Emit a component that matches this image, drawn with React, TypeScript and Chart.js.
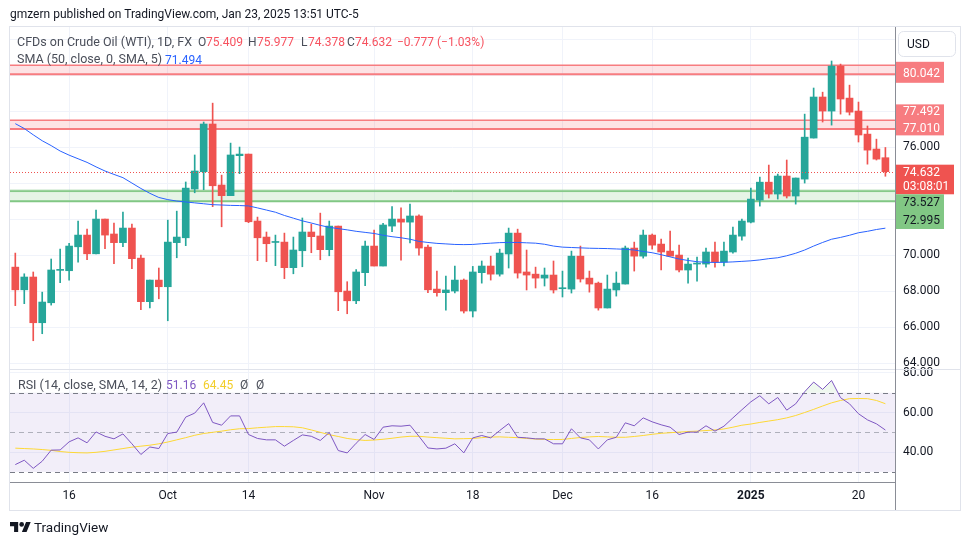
import React, { useEffect, useRef } from "react";
import { Chart, registerables } from "chart.js";
Chart.register(...registerables);

// ---- Data ----
const opens = [69.33,68.07,68.78,66.24,67.35,69.15,69.13,70.46,71.11,70.07,72.0,71.17,70.69,71.5,69.83,67.41,68.61,68.24,70.69,70.96,73.67,74.63,77.28,73.89,73.3,75.52,75.61,71.89,71.0,70.7,70.72,69.3,70.24,71.28,71.06,70.3,71.61,68.0,67.46,69.02,70.5,69.39,71.61,72.0,71.83,72.17,70.44,68.11,67.91,68.0,68.61,66.89,69.02,69.39,68.94,70.06,71.22,69.06,68.94,68.72,68.89,68.13,68.11,69.94,68.72,68.44,67.06,68.06,68.39,70.39,69.94,71.11,70.61,70.22,70.0,69.17,69.5,69.5,70.17,69.61,70.17,71.05,71.83,73.05,74.05,73.39,74.39,73.28,74.22,76.5,78.78,78.0,80.5,78.72,78.0,76.72,75.89,75.409];
const highs = [70.11,68.96,69.06,67.94,69.78,70.33,70.65,71.89,71.44,72.5,72.0,71.78,72.39,71.72,70.0,68.61,69.28,71.94,72.44,74.06,75.56,77.39,78.44,74.44,76.22,76.0,75.61,72.11,71.28,71.11,71.22,71.0,72.06,71.72,72.33,71.89,71.61,68.52,69.19,70.78,71.39,71.76,72.69,72.63,72.83,72.24,70.56,69.11,68.83,69.39,68.67,69.37,69.67,69.94,70.33,71.5,71.44,70.28,69.33,69.28,69.67,69.11,70.22,70.5,69.11,68.5,68.89,69.06,70.5,70.72,71.39,71.17,70.89,71.33,70.55,69.83,69.89,70.39,70.72,70.72,71.55,72.0,73.72,74.33,75.0,74.5,75.28,74.28,77.83,79.28,79.05,80.78,80.61,79.44,78.5,77.17,76.44,75.977];
const lows = [67.19,67.3,65.24,65.63,67.22,68.46,68.61,69.61,69.74,70.07,70.35,69.52,70.46,69.24,66.96,67.07,67.57,66.35,69.85,70.52,73.46,73.63,72.69,71.57,73.3,74.52,71.8,69.69,69.63,69.41,68.69,68.96,69.35,70.13,69.74,69.96,66.91,66.74,67.3,68.3,69.39,69.39,71.3,69.72,70.67,70.0,67.91,67.72,66.94,67.89,66.78,66.56,68.44,68.61,68.83,69.28,68.72,68.06,68.17,68.28,67.89,67.67,67.89,68.5,67.94,66.94,67.06,67.72,68.39,69.11,69.83,70.33,69.17,69.94,69.06,68.44,68.55,69.33,69.33,69.39,70.11,70.83,71.78,72.72,73.17,73.11,73.17,72.83,74.0,76.5,77.39,77.22,77.83,77.78,76.28,75.05,75.28,74.378];
const closes = [68.07,68.78,66.24,67.39,69.17,69.17,70.5,71.11,70.07,72.0,71.11,70.69,71.5,69.8,67.41,68.61,68.24,70.72,71.0,73.72,74.67,77.28,73.85,73.3,75.56,75.61,71.85,70.96,70.63,70.74,69.3,70.28,71.28,71.02,70.3,71.61,67.96,67.46,69.06,70.5,69.39,71.67,72.0,71.83,72.17,70.39,68.07,67.91,68.06,68.61,66.89,69.06,69.39,68.94,70.11,71.22,69.0,68.89,68.72,68.89,68.06,68.17,69.94,68.67,68.39,67.06,68.11,68.44,70.39,69.94,71.11,70.55,70.17,69.94,69.17,69.5,69.55,70.17,69.61,70.22,71.11,71.89,73.11,74.05,73.39,74.39,73.28,74.28,76.55,78.78,78.0,80.5,78.67,77.94,76.67,75.83,75.33,74.632];
const sma50 = [77.3,77.03,76.68,76.35,76.08,75.78,75.55,75.35,75.15,74.9,74.67,74.48,74.3,74.0,73.7,73.43,73.2,73.08,73.0,72.95,72.9,72.85,72.8,72.78,72.76,72.75,72.73,72.62,72.5,72.38,72.2,72.05,71.9,71.78,71.65,71.54,71.47,71.4,71.32,71.26,71.2,71.1,71.02,70.96,70.88,70.76,70.7,70.65,70.62,70.59,70.58,70.59,70.63,70.66,70.69,70.7,70.7,70.68,70.66,70.6,70.5,70.44,70.42,70.4,70.38,70.37,70.36,70.34,70.32,70.28,70.2,70.13,70.02,69.9,69.78,69.7,69.63,69.6,69.59,69.6,69.62,69.65,69.68,69.73,69.8,69.85,69.96,70.1,70.28,70.5,70.7,70.88,70.98,71.1,71.24,71.32,71.42,71.494];
const rsi = [33.7,35.9,31.8,35.4,41.0,41.1,45.2,47.2,44.7,50.2,48.0,46.7,49.2,44.2,38.8,42.6,41.8,49.4,50.1,57.7,59.7,64.9,55.0,53.6,58.3,58.3,48.9,46.9,46.2,46.2,43.0,45.9,48.7,48.0,45.9,49.9,40.8,39.6,44.5,48.9,46.4,52.6,53.3,53.1,53.6,48.0,42.1,41.6,42.0,44.2,39.6,47.2,48.4,47.2,50.9,54.4,47.5,47.2,46.7,46.7,44.2,44.2,51.8,47.2,46.2,41.6,46.2,47.5,54.8,53.3,57.3,55.3,53.8,52.6,48.9,50.1,50.1,53.3,50.6,53.1,57.3,61.4,65.4,68.5,64.4,67.6,61.2,64.4,70.5,75.4,71.7,76.2,67.5,64.4,59.4,56.3,54.3,51.16];
const rsiSma = [42.0,41.8,41.6,41.3,40.9,40.3,39.9,39.7,39.6,39.9,40.4,41.1,41.8,42.5,43.0,43.5,44.2,45.1,46.2,47.3,48.5,49.4,50.0,50.6,51.3,51.8,51.9,52.3,52.6,52.9,52.9,52.8,52.3,51.2,50.0,48.8,47.9,46.9,46.3,45.9,46.1,46.5,47.0,47.6,48.0,48.0,47.6,47.3,47.0,46.7,46.8,46.9,47.3,47.6,47.7,47.5,47.3,46.9,46.6,46.4,46.36,46.4,46.9,47.4,47.7,47.9,47.7,47.5,47.5,47.9,48.4,49.0,49.5,49.8,50.1,50.4,50.6,50.9,51.2,51.7,52.6,53.6,54.2,55.0,55.7,56.4,57.3,58.5,60.0,61.6,63.3,64.9,66.1,67.0,67.1,67.0,66.1,64.45];
const tickIndex = [6, 17, 26, 40, 51, 61, 71, 82, 94];
const tickLabels = ["16", "Oct", "14", "Nov", "18", "Dec", "16", "2025", "20"];
const priceTicks = [64, 66, 68, 70, 72, 74, 76, 78, 80, 82];
const shownPriceTicks = [64, 66, 68, 70, 76];
const rsiTicks = [40, 60, 80];
const rsiLevels = [70, 50, 30];
const redBands = [[80.042, 80.55], [77.01, 77.492]];
const greenBand = [72.995, 73.527, 73.6];
const lastPrice = 74.632;

const UP = "#26A69A";
const DOWN = "#EF5350";
const FONT = "Roboto";

export default function App() {
  const ref = useRef<HTMLCanvasElement>(null);
  useEffect(() => {
    const canvas = ref.current!;
    const idx = closes.map((_, i) => i);
    const colors = idx.map((i) => (closes[i] >= opens[i] ? UP : DOWN));

    const hline = (ctx: CanvasRenderingContext2D, x1: number, x2: number, y: number) => {
      ctx.beginPath();
      ctx.moveTo(x1, y);
      ctx.lineTo(x2, y);
      ctx.stroke();
    };

    const overlay = {
      id: "overlay",
      beforeDatasetsDraw(chart: any) {
        const { ctx, chartArea: a, scales } = chart;
        const y = scales.y, yr = scales.yr;
        ctx.save();
        const t70 = yr.getPixelForValue(70), b30 = yr.getPixelForValue(30);
        ctx.fillStyle = "rgba(126,87,194,0.1)";
        ctx.fillRect(a.left, t70, a.right - a.left, b30 - t70);
        ctx.lineWidth = 1;
        ctx.setLineDash([5, 4]);
        rsiLevels.forEach((v) => {
          ctx.strokeStyle = v === 50 ? "rgba(120,123,134,0.55)" : "#787B86";
          hline(ctx, a.left, a.right, Math.round(yr.getPixelForValue(v)) + 0.5);
        });
        ctx.setLineDash([]);
        redBands.forEach(([lo, hi]) => {
          const top = y.getPixelForValue(hi), bot = y.getPixelForValue(lo);
          ctx.fillStyle = "rgba(242,54,69,0.14)";
          ctx.fillRect(a.left, top, a.right - a.left, bot - top);
          ctx.strokeStyle = "#F77C80";
          ctx.lineWidth = 1.5;
          hline(ctx, a.left, a.right, top);
          ctx.lineWidth = 2;
          hline(ctx, a.left, a.right, bot);
        });
        {
          const [lo, mid, hi] = greenBand;
          const top = y.getPixelForValue(hi), m = y.getPixelForValue(mid), bot = y.getPixelForValue(lo);
          ctx.fillStyle = "rgba(76,175,80,0.14)";
          ctx.fillRect(a.left, top, a.right - a.left, bot - top);
          ctx.strokeStyle = "#81C784";
          ctx.lineWidth = 1;
          hline(ctx, a.left, a.right, top);
          hline(ctx, a.left, a.right, m);
          ctx.lineWidth = 2;
          hline(ctx, a.left, a.right, bot);
        }
        ctx.restore();
      },
      afterDatasetsDraw(chart: any) {
        const { ctx, chartArea: a, scales } = chart;
        ctx.save();
        ctx.strokeStyle = "#EF5350";
        ctx.lineWidth = 1;
        ctx.setLineDash([1, 2]);
        hline(ctx, a.left, a.right, Math.round(scales.y.getPixelForValue(lastPrice)) + 0.5);
        ctx.restore();
      },
      afterDraw(chart: any) {
        const { ctx, chartArea: a, scales } = chart;
        const y = scales.y;
        ctx.save();
        ctx.strokeStyle = "#E0E3EB";
        ctx.lineWidth = 1;
        hline(ctx, a.left, 960, Math.round(scales.yr.top) + 0.5);
        ctx.strokeRect(9.5, 26.5, 951, 484);
        ctx.strokeStyle = "#8A8D96";
        ctx.beginPath();
        ctx.moveTo(Math.round(a.right) + 0.5, 27);
        ctx.lineTo(Math.round(a.right) + 0.5, 510);
        ctx.stroke();
        ctx.font = `12px ${FONT}`;
        ctx.textBaseline = "middle";
        ctx.textAlign = "left";
        const x0 = a.right + 1;
        const label = (top: number, h: number, w: number, bg: string) => {
          ctx.fillStyle = bg;
          ctx.fillRect(x0, top, w, h);
        };
        const c1 = y.getPixelForValue(redBands[0][0]);
        label(c1 - 12.5, 21, 48, "#F77C80");
        ctx.fillStyle = "#fff";
        ctx.fillText("80.042", 903, c1);
        const c2 = y.getPixelForValue(redBands[1][0]);
        label(c2 - 24.5, 31, 48, "#F77C80");
        ctx.fillStyle = "#fff";
        ctx.fillText("77.492", 903, c2 - 17);
        ctx.fillText("77.010", 903, c2);
        const c3 = y.getPixelForValue(lastPrice);
        label(c3 - 7, 29.6, 58, "#EF5350");
        ctx.fillStyle = "#fff";
        ctx.fillText("74.632", 903, c3 + 1);
        ctx.fillText("03:08:01", 903, c3 + 15);
        label(c3 + 22.6, 34.7, 48, "#81C784");
        ctx.fillStyle = "#131722";
        ctx.fillText("73.527", 903, c3 + 31.7);
        ctx.fillText("72.995", 903, c3 + 49);
        ctx.fillStyle = "#fff";
        ctx.strokeStyle = "#E0E3EB";
        ctx.beginPath();
        (ctx as any).roundRect(898.5, 31.5, 57, 25, 5);
        ctx.fill();
        ctx.stroke();
        ctx.fillStyle = "#131722";
        ctx.fillText("USD", 907, 44.5);
        ctx.restore();
      },
    };

    const chart = new Chart(canvas, {
      type: "bar",
      data: {
        datasets: [
          {
            type: "line",
            label: "SMA 50",
            data: sma50.map((v, i) => ({ x: i, y: v })),
            yAxisID: "y",
            borderColor: "#2962FF",
            borderWidth: 1,
            pointRadius: 0,
            tension: 0,
          },
          {
            type: "line",
            label: "RSI",
            data: rsi.map((v, i) => ({ x: i, y: v })),
            yAxisID: "yr",
            borderColor: "#7E57C2",
            borderWidth: 1,
            pointRadius: 0,
            tension: 0,
            fill: { target: { value: 70 }, above: "rgba(76,175,80,0.09)", below: "rgba(0,0,0,0)" },
          },
          {
            type: "line",
            label: "RSI SMA",
            data: rsiSma.map((v, i) => ({ x: i, y: v })),
            yAxisID: "yr",
            borderColor: "#FDD835",
            borderWidth: 1,
            pointRadius: 0,
            tension: 0,
          },
          {
            type: "bar",
            label: "body",
            data: idx.map((i) => ({ x: i, y: [opens[i], closes[i]] })),
            yAxisID: "y",
            backgroundColor: colors,
            barThickness: 7,
            grouped: false,
            minBarLength: 1,
            borderWidth: 0,
          },
          {
            type: "bar",
            label: "wick",
            data: idx.map((i) => ({ x: i, y: [lows[i], highs[i]] })),
            yAxisID: "y",
            backgroundColor: colors,
            barThickness: 1,
            grouped: false,
            borderWidth: 0,
          },
        ] as any,
      },
      options: {
        responsive: false,
        animation: false,
        devicePixelRatio: 1,
        layout: { padding: { left: 10, top: 27, right: 10, bottom: 36 } },
        plugins: { legend: { display: false }, tooltip: { enabled: false } },
        scales: {
          x: {
            type: "linear",
            offset: false,
            min: -0.591,
            max: 98.07,
            afterBuildTicks: (s: any) => {
              s.ticks = tickIndex.map((v) => ({ value: v }));
            },
            afterFit: (s: any) => {
              s.height = 27;
              s.paddingLeft = 0;
              s.paddingRight = 0;
            },
            ticks: {
              autoSkip: false,
              maxRotation: 0,
              padding: 7,
              color: "#131722",
              font: (c: any) => ({ family: FONT, size: 12, weight: c.tick && c.tick.value === 82 ? "bold" : "normal" }),
              callback: (v: any) => {
                const k = tickIndex.indexOf(v);
                return k >= 0 ? tickLabels[k] : "";
              },
            },
            grid: { color: "#F0F3FA", drawTicks: false, offset: false },
            border: { display: true, color: "#8A8D96" },
          },
          y: {
            type: "linear",
            position: "right",
            stack: "panes",
            stackWeight: 342,
            min: 63.67,
            max: 82.67,
            afterBuildTicks: (s: any) => {
              s.ticks = priceTicks.map((v) => ({ value: v }));
            },
            afterFit: (s: any) => {
              s.width = 65;
              s.paddingTop = 0;
              s.paddingBottom = 0;
            },
            ticks: {
              autoSkip: false,
              padding: 8,
              color: "#131722",
              font: { family: FONT, size: 12 },
              callback: (v: any) => (shownPriceTicks.includes(v) ? Number(v).toFixed(3) : ""),
            },
            grid: { color: "#F0F3FA", drawTicks: false },
            border: { display: false },
          },
          yr: {
            type: "linear",
            position: "right",
            stack: "panes",
            stackWeight: 113,
            min: 24.9,
            max: 82.0,
            afterBuildTicks: (s: any) => {
              s.ticks = rsiTicks.map((v) => ({ value: v }));
            },
            afterFit: (s: any) => {
              s.width = 65;
              s.paddingTop = 0;
              s.paddingBottom = 0;
            },
            ticks: {
              autoSkip: false,
              padding: 8,
              color: "#131722",
              font: { family: FONT, size: 12 },
              callback: (v: any) => Number(v).toFixed(2),
            },
            grid: { color: "#F0F3FA", drawTicks: false },
            border: { display: false },
          },
        },
      } as any,
      plugins: [overlay],
    });
    return () => chart.destroy();
  }, []);

  const txt = (left: number, cy: number, size: number, color: string, s: string, weight = 400) => (
    <span
      style={{
        position: "absolute",
        left,
        top: cy - size / 2 - 1,
        fontSize: size,
        lineHeight: `${size + 2}px`,
        color,
        whiteSpace: "nowrap",
        fontWeight: weight,
      }}
    >
      {s}
    </span>
  );

  const gray = "#4A4E59";
  const red = "#F7525F";
  return (
    <div style={{ position: "absolute", left: 0, top: 0, width: 970, height: 545, background: "#fff", fontFamily: FONT, overflow: "hidden" }}>
      <canvas ref={ref} width={970} height={545} style={{ position: "absolute", left: 0, top: 0, width: 970, height: 545 }} />
      {txt(10, 14, 12, "#131722", "gmzern published on TradingView.com, Jan 23, 2025 13:51 UTC-5")}
      {txt(17, 42, 12.5, gray, "CFDs on Crude Oil (WTI), 1D, FX")}
      {txt(198, 42, 12, gray, "O")}
      {txt(206, 42, 12, red, "75.409")}
      {txt(248, 42, 12, gray, "H")}
      {txt(257, 42, 12, red, "75.977")}
      {txt(301, 42, 12, gray, "L")}
      {txt(308, 42, 12, red, "74.378")}
      {txt(347, 42, 12, gray, "C")}
      {txt(355, 42, 12, red, "74.632")}
      {txt(397, 42, 12, red, "\u22120.777 (\u22121.03%)")}
      {txt(17, 59.5, 12.5, gray, "SMA (50, close, 0, SMA, 5)")}
      {txt(165, 59.5, 12, "#2962FF", "71.494")}
      {txt(18, 385, 12.5, gray, "RSI (14, close, SMA, 14, 2)")}
      {txt(166, 385, 12, "#7E57C2", "51.16")}
      {txt(203, 385, 12, "#F2CE2B", "64.45")}
      {txt(240, 385, 12, gray, "\u00D8")}
      {txt(256, 385, 12, gray, "\u00D8")}
      <svg style={{ position: "absolute", left: 10, top: 521.5 }} width={21} height={10.6} viewBox="0 4 36 18">
        <path d="M14 22H7V11H0V4h14v18zM28 22h-8l7.5-18h8L28 22z" fill="#131722" />
        <circle cx="20" cy="8" r="4" fill="#131722" />
      </svg>
      {txt(34, 527.5, 13.5, "#131722", "TradingView")}
    </div>
  );
}
